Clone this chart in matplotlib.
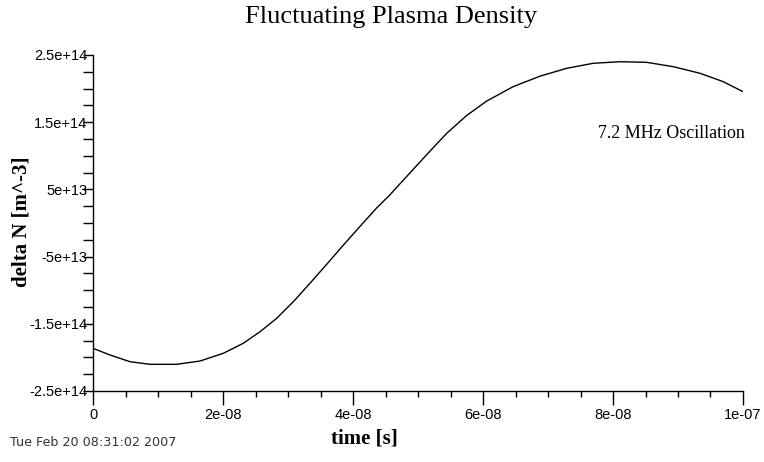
import matplotlib
matplotlib.use("Agg")
import matplotlib.pyplot as plt
from matplotlib.ticker import MultipleLocator, FixedLocator

# Data
time_ns = [0.0, 2.62, 5.69, 8.77, 12.88, 16.46, 20.05, 23.12, 25.69, 28.26,
           30.82, 33.38, 35.95, 38.51, 41.08, 43.65, 45.69, 46.72, 49.28,
           51.85, 54.42, 57.49, 60.57, 64.66, 68.77, 72.88, 76.97, 81.08,
           85.18, 89.28, 93.38, 96.97, 100.0]
delta_n = [-1.865e14, -1.964e14, -2.064e14, -2.103e14, -2.103e14, -2.054e14,
           -1.939e14, -1.790e14, -1.618e14, -1.418e14, -1.171e14, -8.97e13,
           -6.15e13, -3.30e13, -5.0e12, 2.25e13, 4.20e13, 5.30e13, 8.0e13,
           1.070e14, 1.335e14, 1.600e14, 1.815e14, 2.030e14, 2.185e14,
           2.302e14, 2.377e14, 2.400e14, 2.391e14, 2.326e14, 2.228e14,
           2.103e14, 1.954e14]
time_s = [t * 1e-9 for t in time_ns]

x_ticks = [0, 2e-08, 4e-08, 6e-08, 8e-08, 1e-07]
x_labels = ["0", "2e-08", "4e-08", "6e-08", "8e-08", "1e-07"]
y_ticks = [-2.5e14, -1.5e14, -5e13, 5e13, 1.5e14, 2.5e14]
y_labels = ["-2.5e+14", "-1.5e+14", "-5e+13", "5e+13", "1.5e+14", "2.5e+14"]

W, H = 764, 462
fig = plt.figure(figsize=(W / 100, H / 100), dpi=100)
ax = fig.add_axes([93 / W, (H - 391) / H, (743 - 93) / W, (391 - 55) / H])

ax.plot(time_s, delta_n, color="black", linewidth=1.0, solid_joinstyle="round")
ax.set_xlim(0, 1e-07)
ax.set_ylim(-2.5e14, 2.5e14)

for s in ["top", "right"]:
    ax.spines[s].set_visible(False)
for s in ["left", "bottom"]:
    ax.spines[s].set_linewidth(1.0)

sans = ["Liberation Sans Narrow", "Liberation Sans", "DejaVu Sans"]
serif = ["Liberation Serif", "DejaVu Serif"]

ax.xaxis.set_major_locator(FixedLocator(x_ticks))
ax.set_xticklabels(x_labels, fontfamily=sans, fontsize=10.5)
ax.xaxis.set_minor_locator(MultipleLocator(5e-09))
ax.yaxis.set_major_locator(FixedLocator(y_ticks))
ax.set_yticklabels(y_labels, fontfamily=sans, fontsize=10.5)
ax.yaxis.set_minor_locator(MultipleLocator(2.5e13))

ax.tick_params(axis="x", which="major", direction="out", length=10, width=1, pad=2)
ax.tick_params(axis="x", which="minor", direction="out", length=4, width=1)
ax.tick_params(axis="y", which="major", direction="out", length=7, width=1, pad=-3)
ax.tick_params(axis="y", which="minor", direction="out", length=7, width=1)

fig.text(391 / W, 1 - 17 / H, "Fluctuating Plasma Density", ha="center", va="center",
         fontfamily=serif, fontsize=19)
fig.text(364 / W, 1 - 439 / H, "time [s]", ha="center", va="center",
         fontfamily=serif, fontsize=15, fontweight="bold")
fig.text(22 / W, 1 - 222 / H, "delta N [m^-3]", ha="center", va="center",
         rotation=90, fontfamily=serif, fontsize=15, fontweight="bold")
fig.text(745 / W, 1 - 134 / H, "7.2 MHz Oscillation", ha="right", va="center",
         fontfamily=serif, fontsize=13)
fig.text(10 / W, 1 - 443 / H, "Tue Feb 20 08:31:02 2007", ha="left", va="center",
         fontfamily=["DejaVu Sans"], fontsize=9.2, color="#333333")

fig.savefig("out.png", dpi=100)
